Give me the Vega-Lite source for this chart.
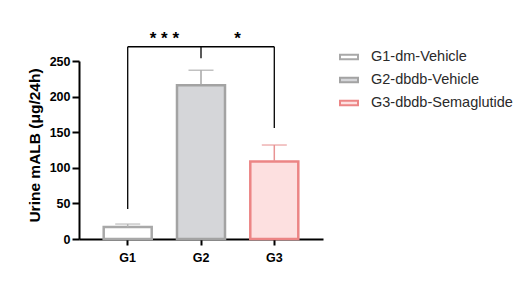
{
  "$schema": "https://vega.github.io/schema/vega-lite/v6.json",
  "width": 244,
  "height": 178,
  "autosize": {"type": "none"},
  "padding": {"left": 79, "top": 61, "right": 209, "bottom": 51},
  "background": "white",
  "config": {
    "view": {"stroke": null},
    "font": "Liberation Sans",
    "axisY": {
      "titleFont": "Liberation Sans", "titleFontSize": 15.5, "titleFontWeight": "bold", "titleColor": "#000",
      "titlePadding": 7, "titleY": 84,
      "labelFont": "Liberation Sans", "labelFontWeight": "bold",
      "labelFontSize": 12.5, "labelColor": "#000", "labelPadding": 2,
      "tickSize": 7, "tickWidth": 2, "tickColor": "#000",
      "domainColor": "#000", "domainWidth": 2, "grid": false,
      "values": [0, 50, 100, 150, 200, 250]
    }
  },
  "datasets": {
    "bars": [
      {"group": "G1", "label": "G1-dm-Vehicle", "mean": 17, "upper": 21},
      {"group": "G2", "label": "G2-dbdb-Vehicle", "mean": 216, "upper": 237},
      {"group": "G3", "label": "G3-dbdb-Semaglutide", "mean": 109, "upper": 132}
    ],
    "legs": [
      {"group": "G1", "top": 270, "bottom": 42},
      {"group": "G2", "top": 270, "bottom": 254},
      {"group": "G3", "top": 270, "bottom": 156}
    ],
    "bracket": [{"from": "G1", "to": "G3", "y": 270}],
    "stars": [
      {"pos": 0.5, "y": 274, "txt": "* * *"},
      {"pos": 1.5, "y": 274, "txt": "*"}
    ]
  },
  "resolve": {"scale": {"x": "independent"}},
  "layer": [
    {
      "layer": [
        {
          "data": {"name": "bars"},
          "mark": {"type": "bar", "strokeWidth": 2.5},
          "encoding": {
            "x": {
              "field": "group", "type": "nominal",
              "scale": {"paddingInner": 0.345, "paddingOuter": 0.337},
              "axis": {
                "title": null, "labelAngle": 0, "labelFont": "Liberation Sans",
                "labelFontWeight": "bold", "labelFontSize": 12.5, "labelColor": "#000",
                "labelPadding": 6, "tickSize": 6, "tickWidth": 2, "tickColor": "#000",
                "domainColor": "#000", "domainWidth": 2
              }
            },
            "y": {
              "field": "mean", "type": "quantitative", "title": "Urine mALB (μg/24h)",
              "scale": {"domain": [0, 250], "nice": false, "clamp": false}
            },
            "fill": {
              "field": "label", "type": "nominal",
              "scale": {
                "domain": ["G1-dm-Vehicle", "G2-dbdb-Vehicle", "G3-dbdb-Semaglutide"],
                "range": ["#ffffff", "#d5d6d9", "#fde0e0"]
              },
              "legend": {
                "orient": "none", "legendX": 260, "legendY": -14, "title": null,
                "labelFont": "Liberation Sans", "labelFontSize": 14.5, "labelColor": "#2a2a2a",
                "symbolType": "M-1,-0.25L1,-0.25L1,0.25L-1,0.25Z", "symbolSize": 324,
                "symbolStrokeWidth": 2, "rowPadding": 6, "labelOffset": 12, "padding": 0
              }
            },
            "stroke": {
              "field": "label", "type": "nominal",
              "scale": {
                "domain": ["G1-dm-Vehicle", "G2-dbdb-Vehicle", "G3-dbdb-Semaglutide"],
                "range": ["#a8a8a8", "#a3a3a3", "#ec8585"]
              },
              "legend": {
                "orient": "none", "legendX": 260, "legendY": -14, "title": null,
                "labelFont": "Liberation Sans", "labelFontSize": 14.5, "labelColor": "#2a2a2a",
                "symbolType": "M-1,-0.25L1,-0.25L1,0.25L-1,0.25Z", "symbolSize": 324,
                "symbolStrokeWidth": 2, "rowPadding": 6, "labelOffset": 12, "padding": 0
              }
            }
          }
        },
        {
          "data": {"name": "bars"},
          "mark": {"type": "rule", "strokeWidth": 1.5},
          "encoding": {
            "x": {"field": "group", "type": "nominal"},
            "y": {"field": "mean", "type": "quantitative", "title": "Urine mALB (μg/24h)"},
            "y2": {"field": "upper"},
            "color": {
              "field": "label", "type": "nominal", "legend": null,
              "scale": {
                "domain": ["G1-dm-Vehicle", "G2-dbdb-Vehicle", "G3-dbdb-Semaglutide"],
                "range": ["#b4b4b4", "#a6a6a6", "#e89393"]
              }
            }
          }
        },
        {
          "data": {"name": "bars"},
          "mark": {"type": "tick", "size": 25, "thickness": 1.5, "orient": "horizontal"},
          "encoding": {
            "x": {"field": "group", "type": "nominal"},
            "y": {"field": "upper", "type": "quantitative", "title": "Urine mALB (μg/24h)"},
            "color": {"field": "label", "type": "nominal", "legend": null}
          }
        },
        {
          "data": {"name": "bracket"},
          "mark": {"type": "rule", "strokeWidth": 1.3, "color": "#000"},
          "encoding": {
            "x": {"field": "from", "type": "nominal"},
            "x2": {"field": "to"},
            "y": {"field": "y", "type": "quantitative", "title": "Urine mALB (μg/24h)"}
          }
        },
        {
          "data": {"name": "legs"},
          "mark": {"type": "rule", "strokeWidth": 1.3, "color": "#000"},
          "encoding": {
            "x": {"field": "group", "type": "nominal"},
            "y": {"field": "top", "type": "quantitative", "title": "Urine mALB (μg/24h)"},
            "y2": {"field": "bottom"}
          }
        }
      ]
    },
    {
      "data": {"name": "stars"},
      "mark": {"type": "text", "font": "Liberation Sans", "fontSize": 17, "fontWeight": "bold", "baseline": "alphabetic", "align": "center", "color": "#000"},
      "encoding": {
        "x": {"field": "pos", "type": "quantitative", "scale": {"domain": [-0.664, 2.664], "nice": false, "zero": false}, "axis": null},
        "y": {"field": "y", "type": "quantitative", "title": "Urine mALB (μg/24h)"},
        "text": {"field": "txt"}
      }
    }
  ]
}
